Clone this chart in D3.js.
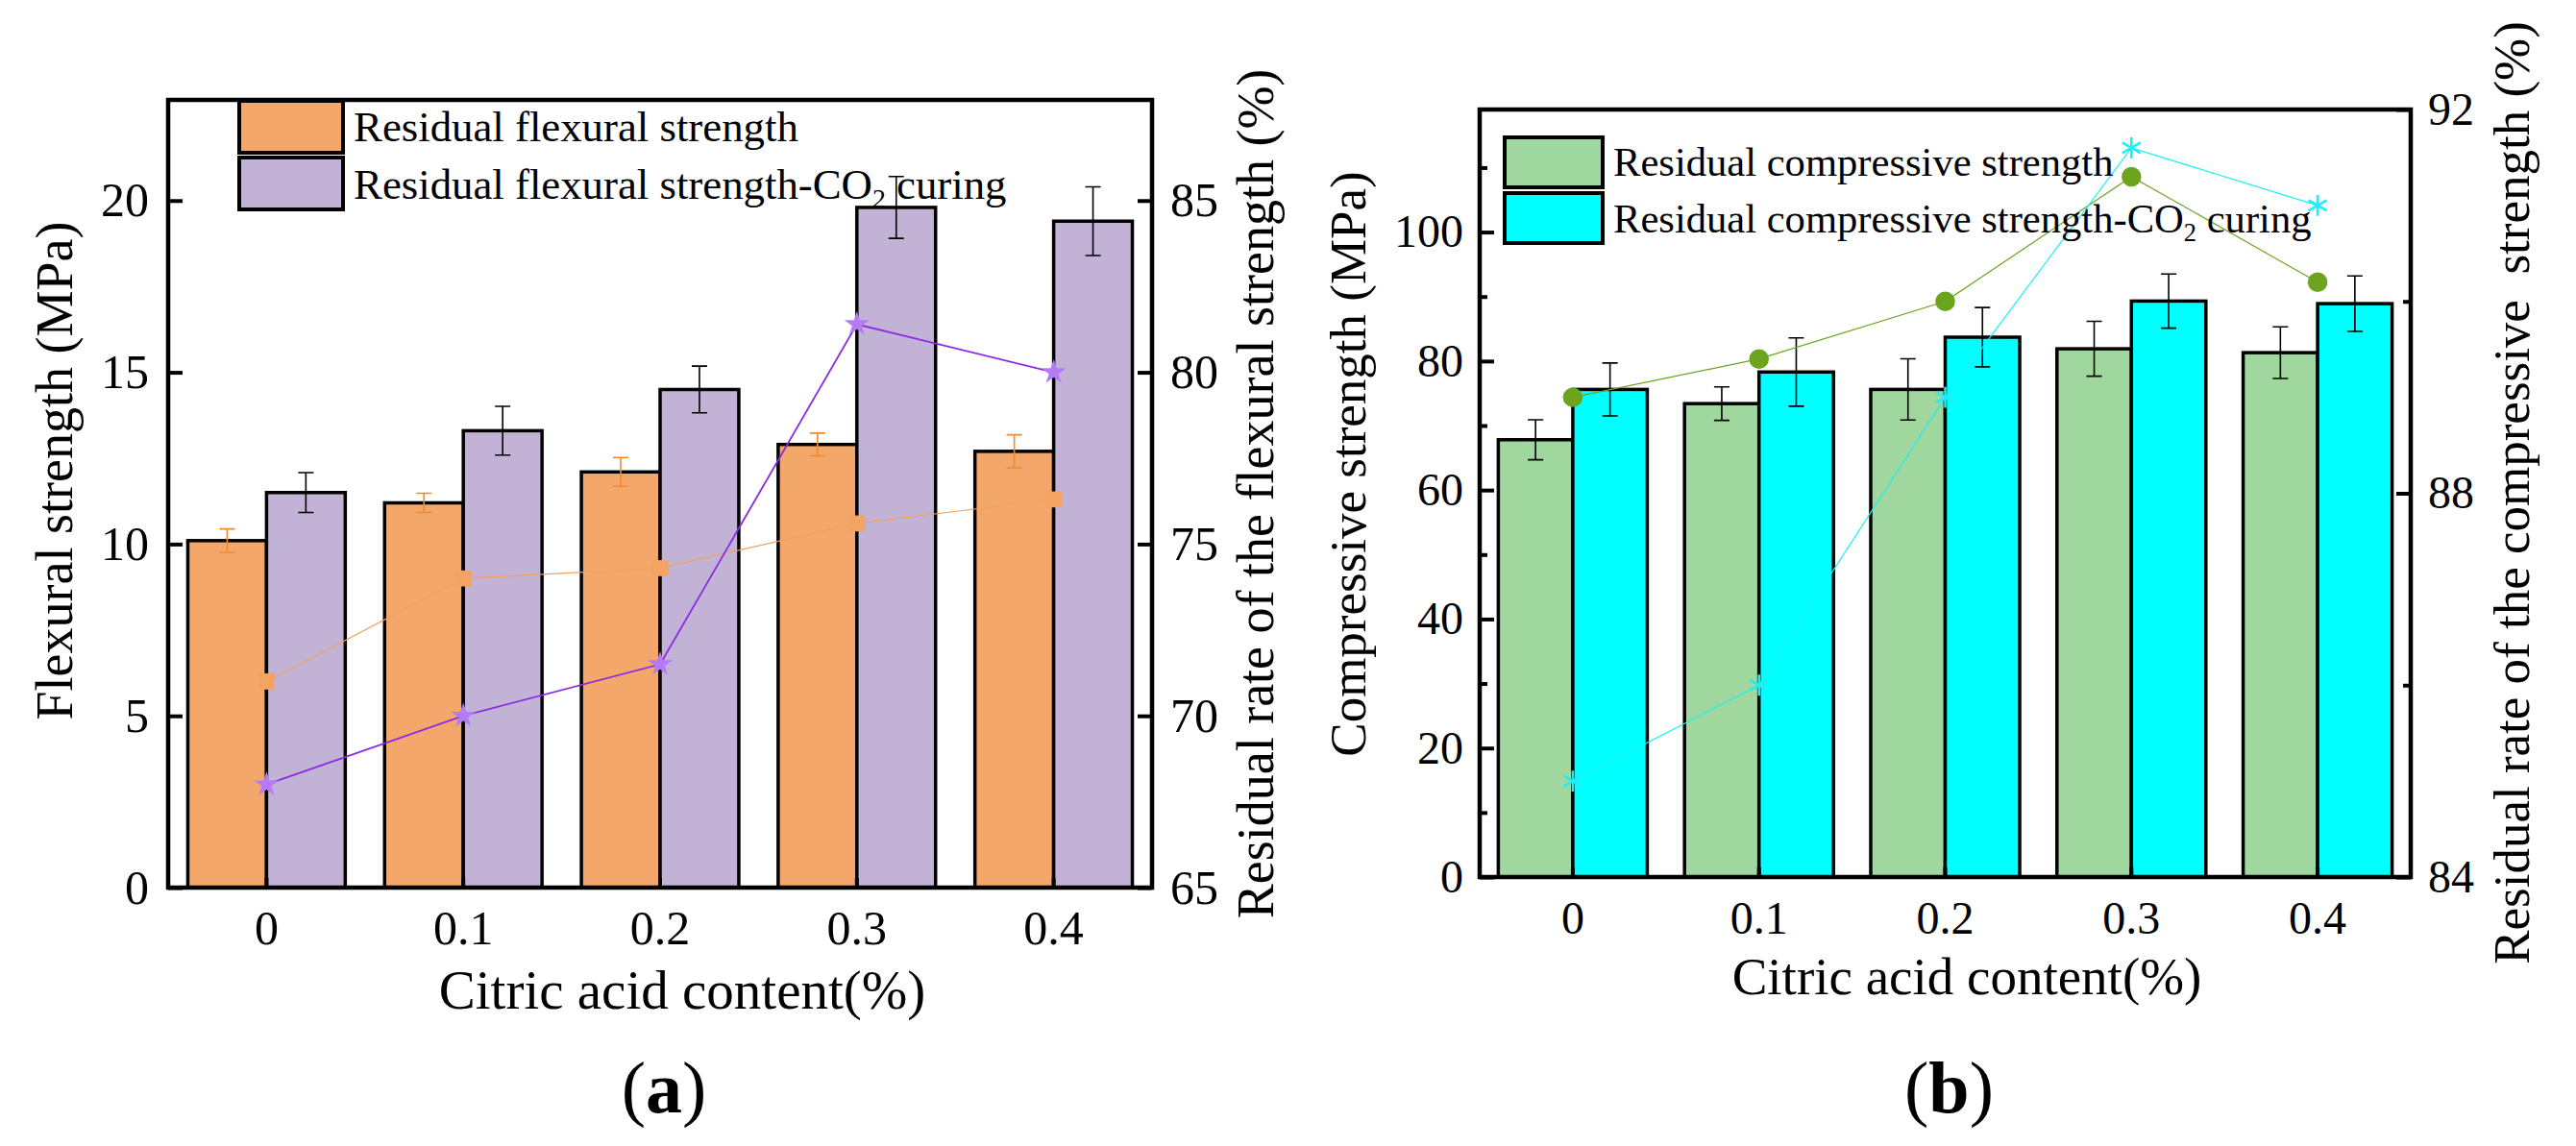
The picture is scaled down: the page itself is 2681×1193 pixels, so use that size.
<!DOCTYPE html>
<html lang="en">
<head>
<meta charset="UTF-8">
<title>Residual strength vs citric acid content</title>
<script src="https://cdn.jsdelivr.net/npm/d3@7"></script>
<style>
    body { margin: 0; background: #fff; }
    text { font-family: "Liberation Serif", "Times New Roman", serif; fill: #000; }
</style>
</head>
<body>
<svg width="2681" height="1193"></svg>
<script>
    const categories = ['0', '0.1', '0.2', '0.3', '0.4'];

    // (a) flexural strength, MPa (left axis) and residual rate, % (right axis)
    const flexural = [10.1, 11.2, 12.1, 12.9, 12.7];
    const flexuralErr = [0.34, 0.28, 0.42, 0.33, 0.48];
    const flexuralCO2 = [11.5, 13.3, 14.5, 19.8, 19.4];
    const flexuralCO2Err = [0.58, 0.71, 0.68, 0.9, 1.0];
    const flexuralRate = [71.0, 74.0, 74.3, 75.6, 76.3];
    const flexuralRateCO2 = [68.0, 70.0, 71.5, 81.4, 80.0];
    const flexLeftTicks = [0, 5, 10, 15, 20];
    const flexRightTicks = [65, 70, 75, 80, 85];

    // (b) compressive strength, MPa (left axis) and residual rate, % (right axis)
    const compressive = [67.8, 73.4, 75.6, 81.9, 81.3];
    const compressiveErr = [3.1, 2.6, 4.75, 4.25, 4.0];
    const compressiveCO2 = [75.6, 78.3, 83.7, 89.3, 88.9];
    const compressiveCO2Err = [4.1, 5.3, 4.6, 4.2, 4.3];
    const compressiveRate = [89.0, 89.4, 90.0, 91.3, 90.2];
    const compressiveRateCO2 = [85.0, 86.0, 89.0, 91.6, 91.0];
    const compLeftTicks = [0, 20, 40, 60, 80, 100];
    const compLeftMinor = [10, 30, 50, 70, 90, 110];
    const compRightTicks = [84, 88, 92];
    const compRightMinor = [86, 90];

    const svg = d3.select('svg');
    const FONT = '"Liberation Serif", "Times New Roman", serif';

    function styleAxis(a, size, width) {
        a.select('.domain').remove();
        a.attr('font-family', FONT).attr('font-size', size);
        a.selectAll('line').attr('stroke', '#000').attr('stroke-width', width);
    }

    function drawPanel(o) {
        let g = svg.append('g');

        let x = d3.scaleBand().domain(categories)
            .range([o.left, o.right]).paddingInner(0.2).paddingOuter(0.1);
        let xs = d3.scaleBand().domain([0, 1]).range([0, x.bandwidth()]);
        let y = d3.scaleLinear().domain(o.leftDomain).range([o.bottom, o.top]);
        let y2 = d3.scaleLinear().domain(o.rightDomain).range([o.bottom, o.top]);
        let cx = i => x(categories[i]) + x.bandwidth() / 2;

        // bars
        o.series.forEach((s, si) => {
            g.append('g').selectAll('rect').data(s.vals).join('rect')
                .attr('x', (d, i) => x(categories[i]) + xs(si))
                .attr('y', d => y(d))
                .attr('width', xs.bandwidth())
                .attr('height', d => y(o.leftDomain[0]) - y(d))
                .attr('fill', s.fill)
                .attr('stroke', '#000')
                .attr('stroke-width', 3.5);
        });

        // error bars
        o.series.forEach((s, si) => {
            let eg = g.append('g').attr('stroke', s.errColor).attr('stroke-width', 1.6).attr('fill', 'none');
            let ex = i => x(categories[i]) + xs(si) + xs.bandwidth() / 2;
            eg.selectAll('path').data(s.vals).join('path')
                .attr('d', (d, i) => {
                    let lo = y(d - s.err[i]), hi = y(d + s.err[i]), c = ex(i);
                    return `M${c},${lo}V${hi}M${c - 8},${hi}H${c + 8}M${c - 8},${lo}H${c + 8}`;
                });
        });

        // frame
        g.append('rect')
            .attr('x', o.left).attr('y', o.top)
            .attr('width', o.right - o.left).attr('height', o.bottom - o.top)
            .attr('fill', 'none').attr('stroke', '#000').attr('stroke-width', 4.5);

        // axes (ticks inward)
        g.append('g').attr('transform', `translate(${o.left},0)`)
            .call(d3.axisLeft(y).tickValues(o.leftTicks).tickSize(-15).tickPadding(o.leftPad))
            .call(a => styleAxis(a, o.tickFont, 4));
        if (o.leftMinor) {
            g.append('g').attr('transform', `translate(${o.left},0)`)
                .call(d3.axisLeft(y).tickValues(o.leftMinor).tickSize(-8).tickFormat(''))
                .call(a => styleAxis(a, o.tickFont, 4));
        }
        g.append('g').attr('transform', `translate(${o.right},0)`)
            .call(d3.axisRight(y2).tickValues(o.rightTicks).tickSize(-15).tickPadding(o.rightPad))
            .call(a => styleAxis(a, o.tickFont, 4));
        if (o.rightMinor) {
            g.append('g').attr('transform', `translate(${o.right},0)`)
                .call(d3.axisRight(y2).tickValues(o.rightMinor).tickSize(-8).tickFormat(''))
                .call(a => styleAxis(a, o.tickFont, 4));
        }
        g.append('g').attr('transform', `translate(0,${o.bottom})`)
            .call(d3.axisBottom(x).tickSize(-10))
            .call(a => styleAxis(a, o.tickFont, 4))
            .call(a => a.selectAll('text').attr('y', o.xTickY).attr('dy', 0));

        // residual-rate lines (right axis)
        o.lines.forEach(l => {
            g.append('path').datum(l.vals)
                .attr('d', d3.line().x((d, i) => cx(i)).y(d => y2(d)))
                .attr('fill', 'none').attr('stroke', l.color).attr('stroke-width', l.width);
            g.append('g').selectAll('path').data(l.vals).join('path')
                .attr('transform', (d, i) => `translate(${cx(i)},${y2(d)})`)
                .attr('d', d3.symbol().type(l.symbol).size(l.size))
                .attr('fill', l.stroke ? 'none' : l.markerColor)
                .attr('stroke', l.stroke ? l.markerColor : 'none')
                .attr('stroke-width', l.stroke || 0);
        });

        // legend
        let lg = g.append('g');
        o.legend.forEach((it, i) => {
            lg.append('rect')
                .attr('x', o.legendX).attr('y', o.legendY[i])
                .attr('width', o.legendW).attr('height', o.legendH)
                .attr('fill', o.series[i].fill).attr('stroke', '#000').attr('stroke-width', 4);
            let t = lg.append('text')
                .attr('x', o.legendTextX).attr('y', o.legendBase[i])
                .attr('font-size', o.legendFont);
            t.append('tspan').text(it[0]);
            if (it.length > 1) {
                t.append('tspan').attr('font-size', o.legendFont * 0.62).attr('dy', o.legendFont * 0.2).text('2');
                t.append('tspan').attr('dy', -o.legendFont * 0.2).text(it[1]);
            }
        });

        // titles
        g.append('text')
            .attr('x', o.xTitleX).attr('y', o.xTitleY)
            .attr('text-anchor', 'middle').attr('font-size', o.xTitleFont)
            .text('Citric acid content(%)');
        g.append('text')
            .attr('transform', `translate(${o.yTitleX},${o.yTitleY}) rotate(-90)`)
            .attr('text-anchor', 'middle').attr('font-size', o.yTitleFont)
            .text(o.yTitle);
        g.append('text')
            .attr('transform', `translate(${o.y2TitleX},${o.y2TitleY}) rotate(-90)`)
            .attr('text-anchor', 'middle').attr('font-size', o.yTitleFont)
            .style('white-space', 'pre')
            .text(o.y2Title);

        let pl = g.append('text')
            .attr('x', (o.left + o.right) / 2 + 4).attr('y', 1158)
            .attr('text-anchor', 'middle').attr('font-size', 76);
        pl.append('tspan').text('(');
        pl.append('tspan').attr('font-weight', 'bold').text(o.letter);
        pl.append('tspan').text(')');
    }

    drawPanel({
        left: 175, right: 1199, top: 104, bottom: 924,
        leftDomain: [0, 22.93], rightDomain: [65, 87.93],
        leftTicks: flexLeftTicks, rightTicks: flexRightTicks,
        tickFont: 50, leftPad: 20, rightPad: 19, xTickY: 59,
        series: [
            {vals: flexural, err: flexuralErr, fill: '#F4A76A', errColor: '#F08A2C'},
            {vals: flexuralCO2, err: flexuralCO2Err, fill: '#C2B2D6', errColor: '#000'}
        ],
        lines: [
            {vals: flexuralRate, color: '#F4A060', width: 1.2, symbol: d3.symbolSquare, size: 280, markerColor: '#F4A462'},
            {vals: flexuralRateCO2, color: '#8A2BE2', width: 1.8, symbol: d3.symbolStar, size: 210, markerColor: '#B57BF5'}
        ],
        legend: [['Residual flexural strength'], ['Residual flexural strength-CO', ' curing']],
        legendX: 249, legendY: [105, 164], legendW: 108, legendH: 54,
        legendTextX: 368, legendBase: [147, 207], legendFont: 44.8,
        xTitleX: 710, xTitleY: 1050, xTitleFont: 57,
        yTitle: 'Flexural strength (MPa)', yTitleX: 75, yTitleY: 490, yTitleFont: 54,
        y2Title: 'Residual rate of the flexural strength (%)', y2TitleX: 1325, y2TitleY: 514,
        letter: 'a'
    });

    drawPanel({
        left: 1540, right: 2509, top: 114, bottom: 913,
        leftDomain: [0, 119], rightDomain: [84, 92],
        leftTicks: compLeftTicks, leftMinor: compLeftMinor,
        rightTicks: compRightTicks, rightMinor: compRightMinor,
        tickFont: 48, leftPad: 17, rightPad: 18, xTickY: 59,
        series: [
            {vals: compressive, err: compressiveErr, fill: '#9FD79F', errColor: '#000'},
            {vals: compressiveCO2, err: compressiveCO2Err, fill: '#00FFFF', errColor: '#000'}
        ],
        lines: [
            {vals: compressiveRate, color: '#6CA41E', width: 1.2, symbol: d3.symbolCircle, size: 330, markerColor: '#6CA41E'},
            {vals: compressiveRateCO2, color: '#1CF0F6', width: 1.2, symbol: d3.symbolAsterisk, size: 340, markerColor: '#1CF0F6', stroke: 2.6}
        ],
        legend: [['Residual compressive strength'], ['Residual compressive strength-CO', ' curing']],
        legendX: 1566, legendY: [143, 201], legendW: 102, legendH: 52,
        legendTextX: 1679, legendBase: [183, 242], legendFont: 42.6,
        xTitleX: 2047, xTitleY: 1035, xTitleFont: 55,
        yTitle: 'Compressive strength (MPa)', yTitleX: 1421, yTitleY: 483, yTitleFont: 53,
        y2Title: 'Residual rate of the compressive  strength (%)', y2TitleX: 2632, y2TitleY: 513,
        letter: 'b'
    });
</script>
</body>
</html>
